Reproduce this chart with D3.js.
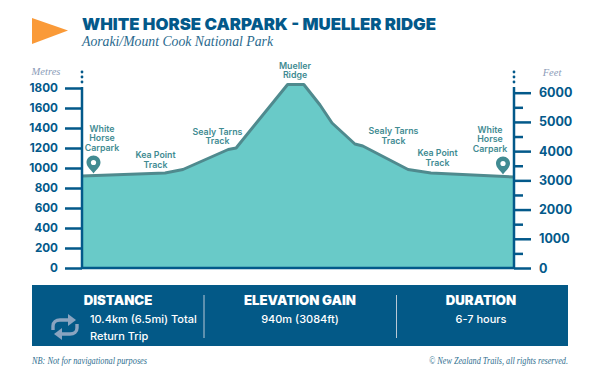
<!DOCTYPE html>
<html>
<head>
<meta charset="utf-8">
<script src="https://cdn.jsdelivr.net/npm/d3@7"></script>
<style>
	html, body { margin: 0; padding: 0; background: #fff; }
	svg { display: block; }
	text { font-family: Inter, Lato, sans-serif; }
	.serif { font-family: "Liberation Serif", serif; font-style: italic; }
</style>
</head>
<body>
<div id="chart"></div>
<script>
// distance along the track (km) and elevation (m)
const distanceKm = [0, 2.0, 2.43, 3.52, 3.71, 4.95, 5.34, 5.73, 6.02, 6.57, 6.76, 7.85, 8.4, 10.4];
const elevationM = [920, 950, 985, 1185, 1200, 1835, 1835, 1630, 1450, 1240, 1220, 985, 950, 910];

const metreTicks = [0, 200, 400, 600, 800, 1000, 1200, 1400, 1600, 1800];
const feetMajorTicks = [0, 1000, 2000, 3000, 4000, 5000, 6000];
const feetMinorTicks = [500, 1500, 2500, 3500, 4500, 5500];

const titleText = 'WHITE HORSE CARPARK - MUELLER RIDGE';
const subtitleText = 'Aoraki/Mount Cook National Park';
const placeNames = [['White', 'Horse', 'Carpark'], ['Kea Point', 'Track'], ['Sealy Tarns', 'Track'], ['Mueller', 'Ridge'], ['Sealy Tarns', 'Track'], ['Kea Point', 'Track'], ['White', 'Horse', 'Carpark']];
const statHeadings = ['DISTANCE', 'ELEVATION GAIN', 'DURATION'];
const statValues = [['10.4km (6.5mi) Total', 'Return Trip'], ['940m (3084ft)'], ['6-7 hours']];

const navy = '#03598a', teal = '#418b92', fill = '#69cac8', ridge = '#4f8a8e';

const svg = d3.select('#chart').append('svg')
	.attr('width', 600)
	.attr('height', 384);

// header
svg.append('path')
	.attr('d', 'M32,18L68,30.5L32,44Z')
	.attr('fill', '#fa9a38');

svg.append('text')
	.attr('x', 82)
	.attr('y', 30)
	.attr('font-size', 16.5)
	.attr('font-weight', 900)
	.attr('fill', navy)
	.attr('textLength', 354)
	.attr('lengthAdjust', 'spacingAndGlyphs')
	.text(titleText);

svg.append('text')
	.classed('serif', true)
	.attr('x', 82)
	.attr('y', 46)
	.attr('font-size', 15)
	.attr('fill', '#2a6a8e')
	.attr('textLength', 191)
	.attr('lengthAdjust', 'spacingAndGlyphs')
	.text(subtitleText);

// scales
const xScale = d3.scaleLinear().domain([0, 10.4]).range([82, 514]);
const yMetres = d3.scaleLinear().domain([0, 1800]).range([268, 88]);
const yFeet = d3.scaleLinear().domain([0, 6000]).range([268, 92.7]);

// elevation profile
const area = d3.area()
	.x((d, i) => xScale(distanceKm[i]))
	.y0(yMetres(0))
	.y1(d => yMetres(d));

const line = d3.line()
	.x((d, i) => xScale(distanceKm[i]))
	.y(d => yMetres(d));

svg.append('path')
	.datum(elevationM)
	.attr('d', area)
	.attr('fill', fill);

svg.append('path')
	.datum(elevationM)
	.attr('d', line)
	.attr('fill', 'none')
	.attr('stroke', ridge)
	.attr('stroke-width', 3)
	.attr('stroke-linejoin', 'round');

// axes
function styleAxis(g, size) {
	g.select('.domain').remove();
	g.selectAll('.tick line')
		.attr('stroke', navy)
		.attr('stroke-width', 2.5);
	g.selectAll('.tick text')
		.attr('fill', navy)
		.attr('font-size', size)
		.attr('font-weight', 700);
}

svg.append('g')
	.attr('transform', 'translate(82,0)')
	.call(d3.axisLeft(yMetres).tickValues(metreTicks).tickSize(17).tickPadding(7).tickFormat(d3.format('d')))
	.call(g => styleAxis(g, 11.7));

svg.append('g')
	.attr('transform', 'translate(514,0)')
	.call(d3.axisRight(yFeet).tickValues(feetMajorTicks).tickSize(17).tickPadding(8).tickFormat(d3.format('d')))
	.call(g => styleAxis(g, 12.5));

svg.append('g')
	.attr('transform', 'translate(514,0)')
	.call(d3.axisRight(yFeet).tickValues(feetMinorTicks).tickSize(9).tickFormat(''))
	.call(g => styleAxis(g, 0));

[82, 514].forEach(x => {
	svg.append('line')
		.attr('x1', x).attr('x2', x)
		.attr('y1', 87).attr('y2', 269)
		.attr('stroke', navy)
		.attr('stroke-width', 2.5);
	[72, 77, 82].forEach(y => {
		svg.append('circle')
			.attr('cx', x).attr('cy', y).attr('r', 1.4)
			.attr('fill', navy);
	});
});

svg.append('line')
	.attr('x1', 82).attr('x2', 514)
	.attr('y1', 268).attr('y2', 268)
	.attr('stroke', navy)
	.attr('stroke-width', 2.5);

svg.append('text')
	.classed('serif', true)
	.attr('x', 46).attr('y', 75)
	.attr('text-anchor', 'middle')
	.attr('font-size', 10.5)
	.attr('fill', '#8c9cb8')
	.text('Metres');

svg.append('text')
	.classed('serif', true)
	.attr('x', 552).attr('y', 76)
	.attr('text-anchor', 'middle')
	.attr('font-size', 10.5)
	.attr('fill', '#8c9cb8')
	.text('Feet');

// place labels
const labelLayout = [
	{x: 102, y: 131.5},
	{x: 155.5, y: 158},
	{x: 217.5, y: 134.5},
	{x: 295, y: 68.5},
	{x: 393.5, y: 134},
	{x: 437.5, y: 156},
	{x: 490, y: 132.5}
];

labelLayout.forEach((l, i) => {
	const text = svg.append('text')
		.attr('text-anchor', 'middle')
		.attr('font-size', 8.8)
		.attr('font-weight', 600)
		.attr('fill', teal);
	placeNames[i].forEach((s, j) => {
		text.append('tspan')
			.attr('x', l.x)
			.attr('y', l.y + j * 9.8)
			.text(s);
	});
});

// map pins
[[93.5, 163.5], [503, 164.5]].forEach(p => {
	const pin = svg.append('g').attr('transform', `translate(${p[0]},${p[1]})`);
	pin.append('path')
		.attr('d', 'M0,10C-2,6.5 -7,3.5 -7,-1C-7,-5 -3.8,-8 0,-8C3.8,-8 7,-5 7,-1C7,3.5 2,6.5 0,10Z')
		.attr('fill', teal);
	pin.append('circle')
		.attr('cx', 0).attr('cy', -1).attr('r', 2.6)
		.attr('fill', '#fff');
});

// stats panel
svg.append('rect')
	.attr('x', 32).attr('y', 285)
	.attr('width', 536).attr('height', 61)
	.attr('fill', '#035987');

[204, 396.5].forEach(x => {
	svg.append('line')
		.attr('x1', x).attr('x2', x)
		.attr('y1', 295).attr('y2', 338)
		.attr('stroke', '#b9c9d6')
		.attr('stroke-width', 1);
});

const headingX = [118, 300, 481];
statHeadings.forEach((h, i) => {
	svg.append('text')
		.attr('x', headingX[i]).attr('y', 305)
		.attr('text-anchor', 'middle')
		.attr('font-size', 13.2)
		.attr('font-weight', 900)
		.attr('fill', '#fff')
		.text(h);
});

statValues.forEach((lines, i) => {
	lines.forEach((s, j) => {
		svg.append('text')
			.attr('x', i == 0 ? 90 : headingX[i])
			.attr('y', i == 0 ? 323 + j * 17 : 323)
			.attr('text-anchor', i == 0 ? 'start' : 'middle')
			.attr('font-size', 11)
			.attr('font-weight', 500)
			.attr('fill', '#fff')
			.text(s);
	});
});

// return trip icon
const icon = svg.append('g')
	.attr('transform', 'translate(65,327)')
	.attr('fill', 'none')
	.attr('stroke', '#8aa4c0')
	.attr('stroke-width', 3.4);
icon.append('path').attr('d', 'M-12,3V-1C-12,-5 -9,-7 -5,-7H7');
icon.append('path').attr('d', 'M12,-3V1C12,5 9,7 5,7H-7');
icon.append('path').attr('d', 'M3,-13L11,-7L3,-1Z').attr('fill', '#8aa4c0').attr('stroke', 'none');
icon.append('path').attr('d', 'M-3,13L-11,7L-3,1Z').attr('fill', '#8aa4c0').attr('stroke', 'none');

// footer
svg.append('text')
	.classed('serif', true)
	.attr('x', 32).attr('y', 364)
	.attr('font-size', 9.5)
	.attr('fill', '#2f6f8f')
	.attr('textLength', 115)
	.attr('lengthAdjust', 'spacingAndGlyphs')
	.text('NB: Not for navigational purposes');

svg.append('text')
	.classed('serif', true)
	.attr('x', 429).attr('y', 364)
	.attr('font-size', 9.5)
	.attr('fill', '#2f6f8f')
	.attr('textLength', 139)
	.attr('lengthAdjust', 'spacingAndGlyphs')
	.text('© New Zealand Trails, all rights reserved.');
</script>
</body>
</html>
